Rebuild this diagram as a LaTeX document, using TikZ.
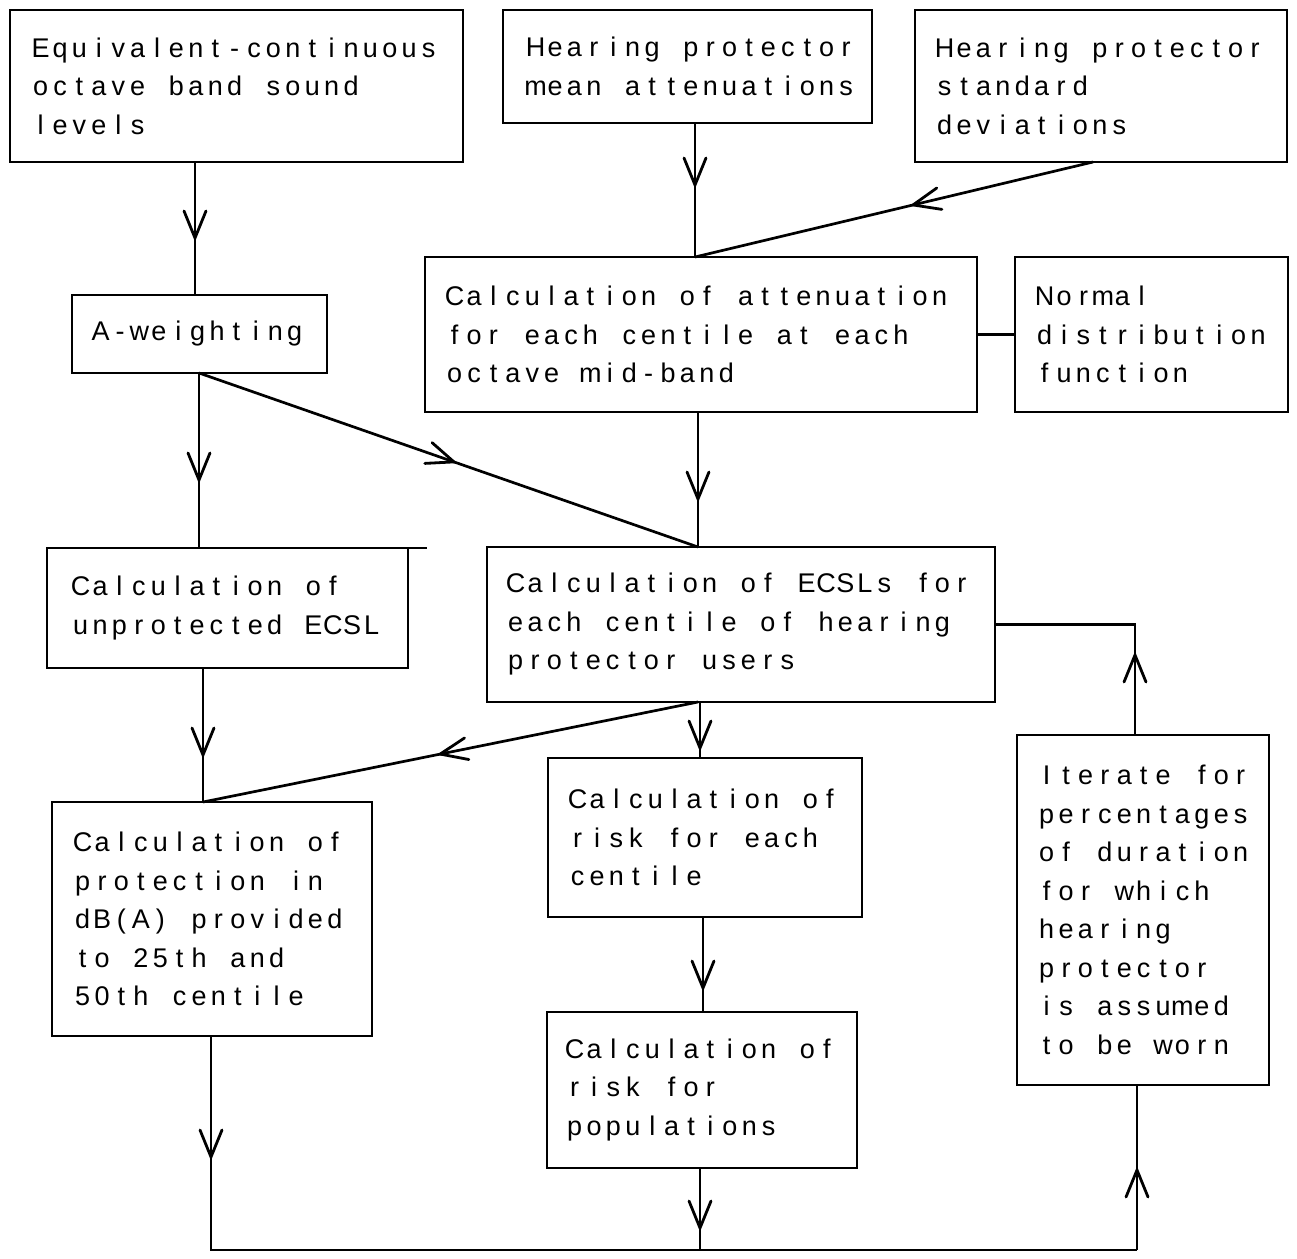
\documentclass[tikz,border=0pt]{standalone}
\usepackage{fontspec}
\setmainfont{Liberation Sans}
\usetikzlibrary{decorations.markings}
\hyphenpenalty=10000
\exhyphenpenalty=10000
% plotter-like lettering: every character centred in a cell of fixed pitch
\newcommand\mono[1]{\mbox{\monoloop#1\relax}}
\def\monoloop#1{\ifx#1\relax\else\makebox[19.4pt]{#1}\expandafter\monoloop\fi}
\tikzset{
  box/.style={draw, line width=2.7pt, rectangle, anchor=north west, outer sep=0pt,
    inner ysep=0pt, align=left, font=\fontsize{27}{38.5}\selectfont},
  conn/.style={line width=2.7pt},
  midarrow/.style={conn, postaction={decorate},
    decoration={markings, mark=at position #1 with
      {\draw[line width=2.8pt, line cap=round] (-27pt,11pt) -- (0pt,0pt) -- (-27pt,-11pt);}}},
}
\begin{document}
\begin{tikzpicture}[x=1pt,y=-1pt]
\fill[white] (0,0) rectangle (1297,1258);
\useasboundingbox (0,0) rectangle (1297,1258);

% boxes
\node[box, minimum height=152pt, text width=411pt, inner xsep=21pt] (A) at (10,10)
  {\mono{Equivalent-continuous}\\\mono{octave~band~sound}\\\mono{levels}};
\node[box, minimum height=113pt, text width=323pt, inner xsep=23pt] (B) at (503,10)
  {\mono{Hearing~protector}\\\mono{mean~attenuations}};
\node[box, minimum height=152pt, text width=332pt, inner xsep=20pt] (C) at (915,10)
  {\mono{Hearing~protector}\\\mono{standard}\\\mono{deviations}};
\node[box, minimum height=78pt, text width=217pt, inner xsep=19pt] (AW) at (72,295)
  {\mono{A-weighting}};
\node[box, minimum height=155pt, text width=512pt, inner xsep=20pt] (D) at (425,257)
  {\mono{Calculation~of~attenuation}\\\mono{for~each~centile~at~each}\\\mono{octave~mid-band}};
\node[box, minimum height=155pt, text width=233pt, inner xsep=20pt] (E) at (1015,257)
  {\mono{Normal}\\\mono{distribution}\\\mono{function}};
\node[box, minimum height=120pt, text width=313pt, inner xsep=24pt] (G) at (47,548)
  {\mono{Calculation~of}\\\mono{unprotected~ECSL}};
\node[box, minimum height=155pt, text width=470pt, inner xsep=19pt] (F) at (487,547)
  {\mono{Calculation~of~ECSLs~for}\\\mono{each~centile~of~hearing}\\\mono{protector~users}};
\node[box, minimum height=234pt, text width=278pt, inner xsep=21pt] (H) at (52,802)
  {\mono{Calculation~of}\\\mono{protection~in}\\\mono{dB(A)~provided}\\\mono{to~25th~and}\\\mono{50th~centile}};
\node[box, minimum height=159pt, text width=274pt, inner xsep=20pt] (I) at (548,758)
  {\mono{Calculation~of}\\\mono{risk~for~each}\\\mono{centile}};
\node[box, minimum height=156pt, text width=274pt, inner xsep=18pt] (J) at (547,1012)
  {\mono{Calculation~of}\\\mono{risk~for}\\\mono{populations}};
\node[box, minimum height=350pt, text width=212pt, inner xsep=20pt] (K) at (1017,735)
  {\mono{Iterate~for}\\\mono{percentages}\\\mono{of~duration}\\\mono{for~which}\\\mono{hearing}\\\mono{protector}\\\mono{is~assumed}\\\mono{to~be~worn}};

% stray overshoot of the top edge of G
\draw[conn] (G.north east) -- ++(19,0);

% junction coordinates
\coordinate (bl) at (211,1250);
\coordinate (br) at (1137,1250);

% connectors
\draw[midarrow=76pt] (A.south -| 195,0) -- (AW.north -| 195,0);
\draw[midarrow=62pt] (B.south -| 695,0) -- (D.north -| 695,0);
\draw[midarrow=185pt] (C.south -| 1093,0) -- (D.north -| 695,0);
\draw[conn] (D.east) -- (E.west);
\draw[midarrow=87pt] (D.south -| 698,0) -- (F.north -| 698,0);
\draw[midarrow=270pt] (AW.south -| 199,0) -- (F.north -| 698,0);
\draw[midarrow=107pt] (AW.south -| 199,0) -- (G.north -| 199,0);
\draw[midarrow=87pt] (G.south -| 203,0) -- (H.north -| 203,0);
\draw[midarrow=263pt] (F.south -| 698,0) -- (H.north -| 203,0);
\draw[midarrow=46pt] (F.south -| 700,0) -- (I.north -| 700,0);
\draw[midarrow=71pt] (I.south -| 703,0) -- (J.north -| 703,0);
\draw[midarrow=60pt] (J.south -| 700,0) -- (bl -| 700,0);
\draw[midarrow=121pt] (H.south -| bl) -- (bl) -- (br);
\draw[midarrow=80pt] (br) -- (K.south -| br);
\draw[midarrow=80pt] (K.north -| 1135,0) |- (F.east);
\end{tikzpicture}
\end{document}
